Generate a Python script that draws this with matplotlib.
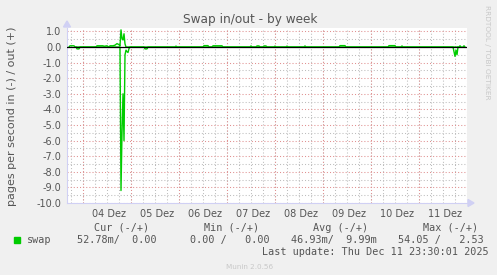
import matplotlib
matplotlib.use("Agg")
import matplotlib.pyplot as plt
import numpy as np
import pandas as pd

# swap out (pages/s, drawn positive)
out_times = ["2025-12-03 17:00", "2025-12-03 17:30", "2025-12-03 19:30", "2025-12-03 20:00",
             "2025-12-04 06:30", "2025-12-04 07:00", "2025-12-04 10:00", "2025-12-04 10:30",
             "2025-12-04 12:00", "2025-12-04 13:00", "2025-12-04 13:30", "2025-12-04 15:00",
             "2025-12-04 16:00", "2025-12-04 17:00", "2025-12-04 18:00", "2025-12-04 18:30",
             "2025-12-04 19:00", "2025-12-04 19:30", "2025-12-04 20:00", "2025-12-04 20:30",
             "2025-12-04 21:00", "2025-12-04 21:30",
             "2025-12-05 22:00", "2025-12-05 22:30", "2025-12-05 23:00",
             "2025-12-06 12:00", "2025-12-06 12:30", "2025-12-06 14:30", "2025-12-06 15:00",
             "2025-12-06 16:30", "2025-12-06 17:00", "2025-12-06 21:30", "2025-12-06 22:00",
             "2025-12-07 11:30", "2025-12-07 12:00", "2025-12-07 12:30",
             "2025-12-07 14:30", "2025-12-07 15:00", "2025-12-07 16:00", "2025-12-07 16:30",
             "2025-12-07 18:00", "2025-12-07 18:30", "2025-12-07 19:30", "2025-12-07 20:00",
             "2025-12-07 23:30", "2025-12-08 00:00", "2025-12-08 00:30",
             "2025-12-08 05:30", "2025-12-08 06:00", "2025-12-08 06:30",
             "2025-12-08 14:30", "2025-12-08 15:00", "2025-12-08 15:30",
             "2025-12-09 08:00", "2025-12-09 08:30", "2025-12-09 11:00", "2025-12-09 11:30",
             "2025-12-10 08:30", "2025-12-10 09:00", "2025-12-10 12:00", "2025-12-10 12:30",
             "2025-12-10 15:00", "2025-12-10 15:30", "2025-12-10 16:00",
             "2025-12-11 20:00", "2025-12-11 20:30", "2025-12-11 21:00",
             "2025-12-11 22:00", "2025-12-11 22:30", "2025-12-11 23:00"]
out_values = [0, 0.08, 0.08, 0,
              0, 0.08, 0.08, 0.05,
              0.08, 0, 0.08, 0.08,
              0.12, 0.22, 0.15, 0.08,
              1.1, 0.55, 0.45, 0.85,
              0.2, 0,
              0, 0.06, 0,
              0, 0.09, 0.09, 0,
              0, 0.08, 0.08, 0,
              0, 0.07, 0,
              0, 0.07, 0.07, 0,
              0, 0.07, 0.07, 0,
              0, 0.06, 0,
              0, 0.06, 0,
              0, 0.07, 0,
              0, 0.09, 0.09, 0,
              0, 0.09, 0.09, 0,
              0, 0.07, 0,
              0, 0.08, 0,
              0, 0.08, 0]

# swap in (pages/s, drawn negative)
in_times = ["2025-12-03 20:30", "2025-12-03 21:00", "2025-12-03 22:00", "2025-12-03 22:30",
            "2025-12-04 18:30", "2025-12-04 19:00", "2025-12-04 19:30", "2025-12-04 20:00",
            "2025-12-04 20:30", "2025-12-04 21:00", "2025-12-04 21:30", "2025-12-04 22:00",
            "2025-12-04 22:30", "2025-12-04 23:00", "2025-12-04 23:30",
            "2025-12-05 06:30", "2025-12-05 07:00", "2025-12-05 08:00", "2025-12-05 08:30",
            "2025-12-11 17:00", "2025-12-11 17:30", "2025-12-11 18:00", "2025-12-11 18:30",
            "2025-12-11 19:00", "2025-12-11 19:30"]
in_values = [0, 0.12, 0.12, 0,
             0, 9.2, 5.5, 3.0,
             6.0, 0.5, 0.2, 0.3,
             0.35, 0.1, 0,
             0, 0.12, 0.12, 0,
             0, 0.3, 0.6, 0.2,
             0.5, 0]

day_labels = ["04 Dez", "05 Dez", "06 Dez", "07 Dez", "08 Dez", "09 Dez", "10 Dez", "11 Dez"]
y_ticks = [1.0, 0.0, -1.0, -2.0, -3.0, -4.0, -5.0, -6.0, -7.0, -8.0, -9.0, -10.0]

legend_header = ["Cur (-/+)", "Min (-/+)", "Avg (-/+)", "Max (-/+)"]
legend_values = ["52.78m/  0.00", "0.00 /   0.00", "46.93m/  9.99m", "54.05 /   2.53"]

W, H = 497, 275
BG = "#f0f0f0"
TXT = "#555555"
GREEN = "#00cc00"
AXIS = "#d0d0f4"

fig = plt.figure(figsize=(W / 100, H / 100), dpi=100, facecolor=BG)
ax = fig.add_axes([67 / W, 1 - 203 / H, 400 / W, 175 / H])
ax.set_facecolor("white")

t_out = pd.to_datetime(out_times)
t_in = pd.to_datetime(in_times)
start = pd.Timestamp("2025-12-03 16:00")
end = pd.Timestamp("2025-12-12 00:00")

ax.set_xlim(start, end)
ax.set_ylim(-10.0, 1.22)

# grid: minor every 6h / 0.5, major every day / 1.0
days = pd.date_range("2025-12-04", "2025-12-12", freq="D")
quarters = pd.date_range("2025-12-03 18:00", "2025-12-11 18:00", freq="6h")
for t in quarters:
    ax.axvline(t, color="#bdbdbd", lw=0.75, ls=(0, (1, 2)), zorder=1)
for t in days:
    ax.axvline(t, color="#e09090", lw=0.75, ls=(0, (1, 2)), zorder=1)
for v in np.arange(-9.5, 1.2, 1.0):
    ax.axhline(v, color="#bdbdbd", lw=0.75, ls=(0, (1, 2)), zorder=1)
for v in y_ticks:
    ax.axhline(v, color="#e09090", lw=0.75, ls=(0, (1, 2)), zorder=1)

ax.plot(t_out, out_values, color=GREEN, lw=1.0, zorder=3)
ax.plot(t_in, -np.array(in_values), color=GREEN, lw=1.0, zorder=3)
ax.axhline(0, color="black", lw=0.9, zorder=5)

for s in ["top", "right"]:
    ax.spines[s].set_visible(False)
for s in ["left", "bottom"]:
    ax.spines[s].set_color(AXIS)
    ax.spines[s].set_linewidth(0.8)

# axis arrows
fig.patches.append(plt.Polygon([[63.5 / W, 1 - 27 / H], [70.5 / W, 1 - 27 / H], [67 / W, 1 - 21 / H]],
                               closed=True, transform=fig.transFigure, color=AXIS))
fig.patches.append(plt.Polygon([[468 / W, 1 - 199.5 / H], [468 / W, 1 - 206.5 / H], [474 / W, 1 - 203 / H]],
                               closed=True, transform=fig.transFigure, color=AXIS))

ax.set_yticks(y_ticks)
ax.set_yticklabels(["%.1f" % v for v in y_ticks])
label_pos = [d + pd.Timedelta(hours=13) for d in days[:-1]]
ax.set_xticks(label_pos)
ax.set_xticklabels(day_labels)
ax.tick_params(axis="both", length=0, labelsize=7, labelcolor=TXT, pad=4)

fig.text(250 / W, 1 - 19 / H, "Swap in/out - by week", ha="center", va="center",
         fontsize=8.7, color=TXT)
fig.text(12 / W, 1 - 116 / H, "pages per second in (-) / out (+)", rotation=90,
         ha="center", va="center", fontsize=8, color=TXT)
fig.text(487 / W, 1 - 5 / H, "RRDTOOL / TOBI OETIKER", rotation=-90, ha="center", va="top",
         fontsize=5.3, color="#c8c8c8")

mono = dict(family="DejaVu Sans Mono", fontsize=7.3, color=TXT, va="center")
header_x = [94, 204, 313, 423]
for x, s in zip(header_x, legend_header):
    fig.text(x / W, 1 - 228 / H, s, ha="left", **mono)
value_x = [77, 190, 291, 398]
for x, s in zip(value_x, legend_values):
    fig.text(x / W, 1 - 240 / H, s, ha="left", **mono)
fig.patches.append(plt.Rectangle((14 / W, 1 - 243 / H), 6 / W, 6 / H, transform=fig.transFigure,
                                 color=GREEN))
fig.text(27 / W, 1 - 240 / H, "swap", ha="left", **mono)
fig.text(262 / W, 1 - 252 / H, "Last update: Thu Dec 11 23:30:01 2025", ha="left", **mono)
fig.text(250 / W, 1 - 267 / H, "Munin 2.0.56", ha="center", va="center", fontsize=5.2,
         color="#c8c8c8")

fig.savefig("out.png", dpi=100, facecolor=BG)
